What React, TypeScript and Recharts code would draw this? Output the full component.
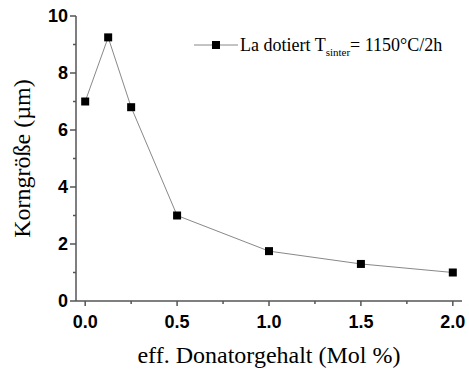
import React from 'react';
import { LineChart, Line, XAxis, YAxis } from 'recharts';

const doping = [0, 0.125, 0.25, 0.5, 1.0, 1.5, 2.0];
const grainSize = [7.0, 9.25, 6.8, 3.0, 1.75, 1.3, 1.0];
const xTicks = [0, 0.25, 0.5, 0.75, 1, 1.25, 1.5, 1.75, 2];
const xMajor = [0, 0.5, 1, 1.5, 2];
const yTicks = [0, 1, 2, 3, 4, 5, 6, 7, 8, 9, 10];
const yMajor = [0, 2, 4, 6, 8, 10];
const xTitle = 'eff. Donatorgehalt (Mol %)';
const yTitle = 'Korngröße (µm)';
const seriesName = 'La dotiert T';
const seriesSub = 'sinter';
const seriesTail = '= 1150°C/2h';

const data = doping.map((x, i) => ({ x, y: grainSize[i] }));

const AX = '#555';
const TICKFONT = "'Liberation Sans', Arial, sans-serif";
const SERIF = "'Liberation Serif', 'Times New Roman', serif";

const BottomTick = (p: any) => {
  const { x, y, payload } = p;
  const major = xMajor.includes(payload.value);
  return (
    <g>
      <line x1={x} y1={y} x2={x} y2={y + (major ? 5 : 3)} stroke={AX} strokeWidth={1.5} />
      {major && (
        <text x={x} y={y + 27} textAnchor="middle" fontFamily={TICKFONT} fontWeight="bold" fontSize={18} fill="#000">
          {payload.value.toFixed(1)}
        </text>
      )}
    </g>
  );
};

const TopTick = (p: any) => {
  const { x, y, payload } = p;
  const major = xMajor.includes(payload.value);
  return <line x1={x} y1={y} x2={x} y2={y + (major ? 5 : 3)} stroke={AX} strokeWidth={1.5} />;
};

const LeftTick = (p: any) => {
  const { x, y, payload } = p;
  const major = yMajor.includes(payload.value);
  return (
    <g>
      <line x1={x - (major ? 6 : 3)} y1={y} x2={x} y2={y} stroke={AX} strokeWidth={1.5} />
      {major && (
        <text x={x - 8} y={y} dy="0.36em" textAnchor="end" fontFamily={TICKFONT} fontWeight="bold" fontSize={18} fill="#000">
          {payload.value}
        </text>
      )}
    </g>
  );
};

const RightTick = (p: any) => {
  const { x, y, payload } = p;
  const major = yMajor.includes(payload.value);
  return <line x1={x - (major ? 6 : 3)} y1={y} x2={x} y2={y} stroke={AX} strokeWidth={1.5} />;
};

const SquareDot = (p: any) => {
  const { cx, cy } = p;
  if (cx == null || cy == null) return <g />;
  return <rect x={cx - 4} y={cy - 4} width={8} height={8} fill="#000" />;
};

export default function App() {
  return (
    <div style={{ position: 'absolute', left: 0, top: 0, width: 469, height: 371, background: '#fff' }}>
      <LineChart width={469} height={371} data={data} margin={{ top: 16, right: 7, bottom: 30, left: 16 }}>
        <XAxis
          dataKey="x"
          type="number"
          domain={[-0.05, 2.05]}
          ticks={xTicks}
          interval={0}
          height={40}
          tickSize={0}
          tickMargin={0}
          tickLine={false}
          tick={<BottomTick />}
          axisLine={{ stroke: AX, strokeWidth: 1.5 }}
          label={{
            content: (lp: any) => {
              const vb = lp.viewBox;
              return (
                <text x={vb.x + vb.width / 2} y={vb.y + 62} textAnchor="middle" fontFamily={SERIF} fontSize={24} fill="#000">
                  {xTitle}
                </text>
              );
            },
          }}
        />
        <XAxis
          xAxisId="top"
          orientation="top"
          dataKey="x"
          type="number"
          domain={[-0.05, 2.05]}
          ticks={xTicks}
          interval={0}
          height={0}
          tickSize={0}
          tickMargin={0}
          tickLine={false}
          tick={<TopTick />}
          axisLine={{ stroke: AX, strokeWidth: 1.5 }}
        />
        <YAxis
          type="number"
          domain={[0, 10]}
          ticks={yTicks}
          interval={0}
          width={60}
          tickSize={0}
          tickMargin={0}
          tickLine={false}
          tick={<LeftTick />}
          axisLine={{ stroke: AX, strokeWidth: 1.5 }}
          label={{
            content: (lp: any) => {
              const vb = lp.viewBox;
              const cx = 22;
              const cy = vb.y + vb.height / 2;
              return (
                <text x={cx} y={cy} transform={`rotate(-90 ${cx} ${cy})`} dy="0.35em" textAnchor="middle" fontFamily={SERIF} fontSize={24} fill="#000">
                  {yTitle}
                </text>
              );
            },
          }}
        />
        <YAxis
          yAxisId="right"
          orientation="right"
          type="number"
          domain={[0, 10]}
          ticks={yTicks}
          interval={0}
          width={0}
          tickSize={0}
          tickMargin={0}
          tickLine={false}
          tick={<RightTick />}
          axisLine={{ stroke: AX, strokeWidth: 1.5 }}
        />
        <Line
          dataKey="y"
          type="linear"
          stroke="#888"
          strokeWidth={1}
          dot={<SquareDot />}
          activeDot={false}
          isAnimationActive={false}
        />
      </LineChart>
      <div
        style={{
          position: 'absolute',
          left: 194,
          top: 33,
          display: 'flex',
          alignItems: 'center',
          fontFamily: SERIF,
          fontSize: 18,
          color: '#000',
          whiteSpace: 'nowrap',
          lineHeight: '24px',
        }}
      >
        <svg width={44} height={10} style={{ marginRight: 2 }}>
          <line x1={0} y1={5} x2={44} y2={5} stroke="#888" strokeWidth={1} />
          <rect x={18} y={1} width={8} height={8} fill="#000" />
        </svg>
        <span>
          {seriesName}
          <sub style={{ fontSize: 11, verticalAlign: 'sub', lineHeight: 0 }}>{seriesSub}</sub>
          {seriesTail}
        </span>
      </div>
    </div>
  );
}
